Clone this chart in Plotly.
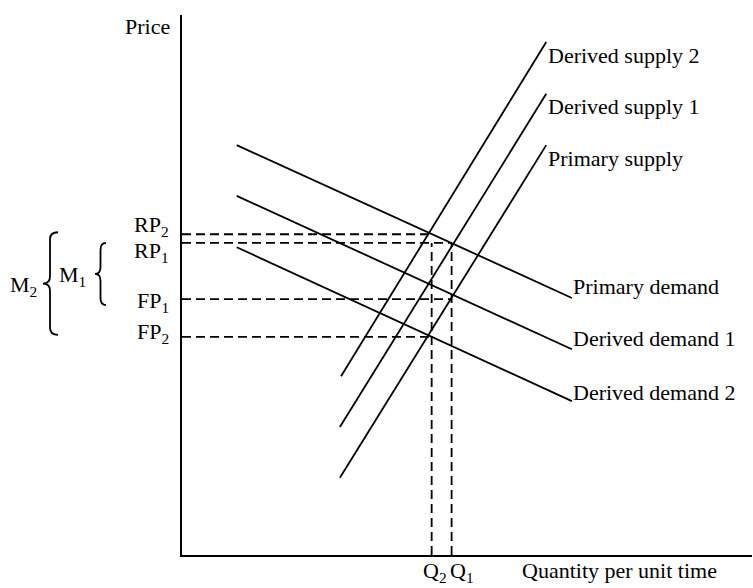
import plotly.graph_objects as go

# ---------------- data (axis units 0-10) ----------------
supply_names = ["Derived supply 2", "Derived supply 1", "Primary supply"]
supply_q0 = [2.79, 2.77, 2.77]
supply_p0 = [3.31, 2.37, 1.43]
supply_q1 = [6.39, 6.39, 6.39]
supply_p1 = [9.50, 8.54, 7.59]

demand_names = ["Primary demand", "Derived demand 1", "Derived demand 2"]
demand_q0 = [0.96, 0.96, 0.96]
demand_p0 = [7.59, 6.65, 5.70]
demand_q1 = [6.84, 6.84, 6.84]
demand_p1 = [4.76, 3.81, 2.85]

price_labels = ["RP<sub>2</sub>", "RP<sub>1</sub>", "FP<sub>1</sub>", "FP<sub>2</sub>"]
price_levels = [5.94, 5.78, 4.74, 4.04]
price_reach = [4.38, 4.73, 4.73, 4.38]      # quantity where each dashed price line stops

qty_labels = ["Q<sub>2</sub>", "Q<sub>1</sub>"]
qty_levels = [4.38, 4.73]
qty_top = [5.78, 5.78]

margin_labels = ["M<sub>1</sub>", "M<sub>2</sub>"]
margin_ranges = [(5.78, 4.74), (5.94, 4.04)]   # (retail price, farm price)

x_title = "Quantity per unit time"
y_title = "Price"

# ---------------- layout geometry ----------------
W, H = 753, 588
ML, MR, MT, MB = 182, 1, 15, 33
PW, PH = W - ML - MR, H - MT - MB
XR, YR = (0, 10), (0, 10)

FONT = dict(family="Liberation Serif, Times New Roman, serif", size=22, color="black")


def y_to_px(v):
    return MT + PH * (1 - (v - YR[0]) / (YR[1] - YR[0]))


def px_to_paper_x(px):
    return (px - ML) / PW


def px_to_paper_y(py):
    return (MT + PH - py) / PH


fig = go.Figure()

# supply curves
for i, n in enumerate(supply_names):
    fig.add_trace(go.Scatter(x=[supply_q0[i], supply_q1[i]], y=[supply_p0[i], supply_p1[i]],
                             mode="lines", line=dict(color="black", width=1.8),
                             name=n, hoverinfo="skip"))
# demand curves
for i, n in enumerate(demand_names):
    fig.add_trace(go.Scatter(x=[demand_q0[i], demand_q1[i]], y=[demand_p0[i], demand_p1[i]],
                             mode="lines", line=dict(color="black", width=1.8),
                             name=n, hoverinfo="skip"))

DASH = dict(color="black", width=1.8, dash="9px,5px")
# horizontal dashed price lines
for lvl, reach in zip(price_levels, price_reach):
    fig.add_trace(go.Scatter(x=[XR[0], reach], y=[lvl, lvl], mode="lines",
                             line=DASH, hoverinfo="skip"))
# vertical dashed quantity lines
for q, top in zip(qty_levels, qty_top):
    fig.add_trace(go.Scatter(x=[q, q], y=[YR[0], top], mode="lines",
                             line=DASH, hoverinfo="skip"))

ann = []
# curve labels
for i, n in enumerate(supply_names):
    ann.append(dict(x=supply_q1[i], y=supply_p1[i], xref="x", yref="y", text=n,
                    xanchor="left", yanchor="middle", xshift=0, yshift=-13,
                    showarrow=False, font=FONT))
demand_yshift = [11, 11, 9]
for i, n in enumerate(demand_names):
    ann.append(dict(x=demand_q1[i], y=demand_p1[i], xref="x", yref="y", text=n,
                    xanchor="left", yanchor="middle", xshift=-1, yshift=demand_yshift[i],
                    showarrow=False, font=FONT))

# price labels on the y axis
price_yshift = [8.5, -9.5, -3, 3.5]
for lab, lvl, ys in zip(price_labels, price_levels, price_yshift):
    ann.append(dict(x=0, y=lvl, xref="paper", yref="y", text=lab, xanchor="right",
                    yanchor="middle", xshift=-11, yshift=ys, showarrow=False, font=FONT))

# quantity labels
qty_xshift = [3, 10]
for lab, q, xs in zip(qty_labels, qty_levels, qty_xshift):
    ann.append(dict(x=q, y=0, xref="x", yref="paper", text=lab, xanchor="center",
                    yanchor="middle", xshift=xs, yshift=-17, showarrow=False, font=FONT))

# axis titles
ann.append(dict(x=px_to_paper_x(520), y=0, xref="paper", yref="paper", text=x_title,
                xanchor="left", yanchor="middle", yshift=-15, showarrow=False, font=FONT))
ann.append(dict(x=0, y=px_to_paper_y(26.5), xref="paper", yref="paper", text=y_title,
                xanchor="right", yanchor="middle", xshift=-10, showarrow=False, font=FONT))

# margin braces (left curly braces drawn as paths)
brace_geom = [  # tip x, stem x, end x, top pad, bottom pad, label right edge (pixels)
    dict(xt=95, xv=100.5, xe=106, pt=0, pb=6, lab_r=88),
    dict(xt=43, xv=50, xe=58, pt=-2, pb=-2, lab_r=39),
]
shapes = []
for (hi, lo), g, lab in zip(margin_ranges, brace_geom, margin_labels):
    yt = y_to_px(hi) + g["pt"]
    yb = y_to_px(lo) + g["pb"]
    ym = (yt + yb) / 2
    r = 7
    pts = [("M", g["xe"], yt), ("Q", g["xv"], yt), ("", g["xv"], yt + r),
           ("L", g["xv"], ym - r), ("Q", g["xv"], ym), ("", g["xt"], ym),
           ("Q", g["xv"], ym), ("", g["xv"], ym + r), ("L", g["xv"], yb - r),
           ("Q", g["xv"], yb), ("", g["xe"], yb)]
    path = " ".join(f"{c}{px_to_paper_x(x):.5f},{px_to_paper_y(y):.5f}" for c, x, y in pts)
    shapes.append(dict(type="path", xref="paper", yref="paper", path=path,
                       line=dict(color="black", width=1.8)))
    ann.append(dict(x=px_to_paper_x(g["lab_r"]), y=px_to_paper_y(ym + 2.5), xref="paper",
                    yref="paper", text=lab, xanchor="right", yanchor="middle",
                    showarrow=False, font=FONT))

axis_common = dict(showline=True, linecolor="black", linewidth=2, showgrid=False,
                   zeroline=False, showticklabels=False, ticks="", fixedrange=True)

fig.update_layout(
    width=W, height=H,
    margin=dict(l=ML, r=MR, t=MT, b=MB, pad=0),
    paper_bgcolor="white", plot_bgcolor="white",
    showlegend=False,
    xaxis=dict(range=list(XR), **axis_common),
    yaxis=dict(range=list(YR), **axis_common),
    annotations=ann, shapes=shapes,
    font=FONT,
)

fig.write_html("out.html", config={"displayModeBar": False},
               post_script="document.body.style.margin='0';")
